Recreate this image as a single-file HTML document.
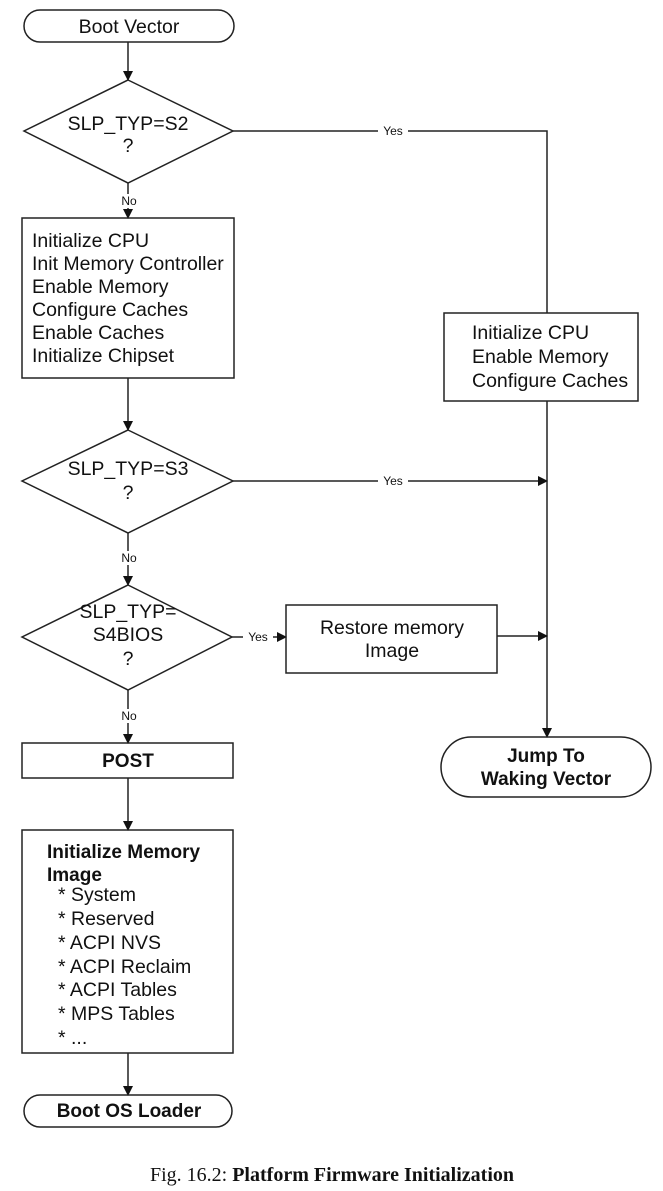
<!DOCTYPE html>
<html><head><meta charset="utf-8"><style>
html,body{margin:0;padding:0;background:#fff;}
svg{display:block;}
text{font-family:"Liberation Sans",Arial,sans-serif;fill:#111;}
</style></head><body>
<svg width="663" height="1191" viewBox="0 0 663 1191" xmlns="http://www.w3.org/2000/svg">
<defs><marker id="a" markerWidth="10" markerHeight="10" refX="9" refY="5" orient="auto" markerUnits="userSpaceOnUse"><path d="M0,0 L10,5 L0,10 z" fill="#111"/></marker></defs>
<g stroke="#222" stroke-width="1.5" fill="none">
<rect x="24" y="10" width="210" height="32" rx="16"/>
<line x1="128" y1="42" x2="128" y2="80" marker-end="url(#a)"/>
<polygon points="128,80 233,131 128,183 24,131"/>
<polyline points="233,131 547,131 547,313"/>
<line x1="128" y1="183" x2="128" y2="218" marker-end="url(#a)"/>
<rect x="22" y="218" width="212" height="160"/>
<line x1="128" y1="378" x2="128" y2="430" marker-end="url(#a)"/>
<rect x="444" y="313" width="194" height="88"/>
<polygon points="128,430 233,481 128,533 22,481"/>
<line x1="233" y1="481" x2="547" y2="481" marker-end="url(#a)"/>
<line x1="547" y1="401" x2="547" y2="737" marker-end="url(#a)"/>
<line x1="128" y1="533" x2="128" y2="585" marker-end="url(#a)"/>
<polygon points="128,585 232,637 128,690 22,637"/>
<line x1="232" y1="637" x2="286" y2="637" marker-end="url(#a)"/>
<rect x="286" y="605" width="211" height="68"/>
<line x1="497" y1="636" x2="547" y2="636" marker-end="url(#a)"/>
<rect x="441" y="737" width="210" height="60" rx="30"/>
<line x1="128" y1="690" x2="128" y2="743" marker-end="url(#a)"/>
<rect x="22" y="743" width="211" height="35"/>
<line x1="128" y1="778" x2="128" y2="830" marker-end="url(#a)"/>
<rect x="22" y="830" width="211" height="223"/>
<line x1="128" y1="1053" x2="128" y2="1095" marker-end="url(#a)"/>
<rect x="24" y="1095" width="208" height="32" rx="16"/>
</g>
<g font-size="19.5">
<text x="129" y="33" text-anchor="middle">Boot Vector</text>
<text x="128" y="130" text-anchor="middle">SLP_TYP=S2</text>
<text x="128" y="152" text-anchor="middle">?</text>
<text x="32" y="247">Initialize CPU</text>
<text x="32" y="270">Init Memory Controller</text>
<text x="32" y="293">Enable Memory</text>
<text x="32" y="316">Configure Caches</text>
<text x="32" y="339">Enable Caches</text>
<text x="32" y="362">Initialize Chipset</text>
<text x="472" y="339">Initialize CPU</text>
<text x="472" y="363">Enable Memory</text>
<text x="472" y="387">Configure Caches</text>
<text x="128" y="475" text-anchor="middle">SLP_TYP=S3</text>
<text x="128" y="499" text-anchor="middle">?</text>
<text x="128" y="618" text-anchor="middle">SLP_TYP=</text>
<text x="128" y="641" text-anchor="middle">S4BIOS</text>
<text x="128" y="665" text-anchor="middle">?</text>
<text x="392" y="634" text-anchor="middle">Restore memory</text>
<text x="392" y="657" text-anchor="middle">Image</text>
<text x="58" y="901">*  System</text>
<text x="58" y="925">*  Reserved</text>
<text x="58" y="949">*  ACPI NVS</text>
<text x="58" y="973">*  ACPI Reclaim</text>
<text x="58" y="996">*  ACPI Tables</text>
<text x="58" y="1020">*  MPS Tables</text>
<text x="58" y="1044">*  ...</text>
</g>
<g font-size="19" font-weight="bold">
<text x="128" y="767" text-anchor="middle">POST</text>
<text x="47" y="858">Initialize Memory</text>
<text x="47" y="881">Image</text>
<text x="129" y="1117" text-anchor="middle">Boot OS Loader</text>
<text x="546" y="762" text-anchor="middle">Jump To</text>
<text x="546" y="785" text-anchor="middle">Waking Vector</text>
</g>
<g font-size="12">
<rect x="378" y="124" width="30" height="14" fill="#fff"/>
<text x="393" y="135" text-anchor="middle">Yes</text>
<rect x="378" y="474" width="30" height="14" fill="#fff"/>
<text x="393" y="485" text-anchor="middle">Yes</text>
<rect x="243" y="630" width="30" height="14" fill="#fff"/>
<text x="258" y="641" text-anchor="middle">Yes</text>
<rect x="118" y="194" width="22" height="14" fill="#fff"/>
<text x="129" y="205" text-anchor="middle">No</text>
<rect x="118" y="551" width="22" height="14" fill="#fff"/>
<text x="129" y="562" text-anchor="middle">No</text>
<rect x="118" y="709" width="22" height="14" fill="#fff"/>
<text x="129" y="720" text-anchor="middle">No</text>
</g>
<text x="332" y="1181" text-anchor="middle" font-size="20" style="font-family:'Liberation Serif',serif">Fig. 16.2: <tspan font-weight="bold">Platform Firmware Initialization</tspan></text>
</svg>
</body></html>
